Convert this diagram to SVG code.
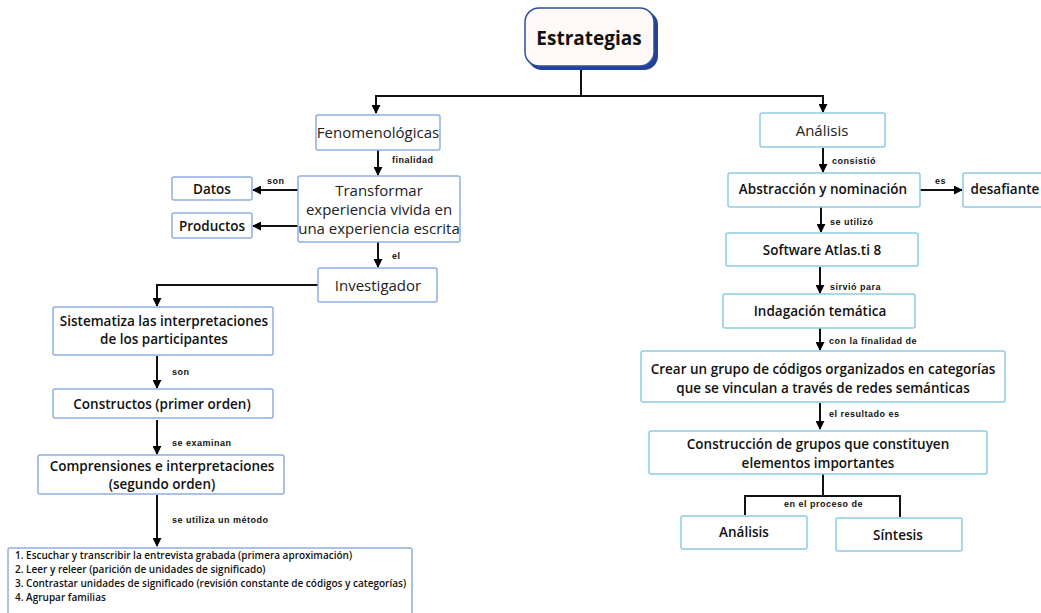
<svg xmlns="http://www.w3.org/2000/svg" width="1041" height="613" viewBox="0 0 1041 613">
<defs>
<marker id="ah" viewBox="0 0 10 10" refX="9" refY="5" markerWidth="9" markerHeight="9" markerUnits="userSpaceOnUse" orient="auto">
<path d="M0,0 L10,5 L0,10 Z" fill="#000"/>
</marker>
</defs>
<style>
.bl{fill:#fff;stroke:#8eaee0;stroke-width:1.5}
.br{fill:#fff;stroke:#8ccbe3;stroke-width:1.5}
.t{font-family:"Open Sans","Noto Sans",sans-serif;font-size:15px;fill:#222;text-anchor:middle}
.b{font-family:"Open Sans","Noto Sans",sans-serif;font-weight:600;font-size:13.5px;fill:#111;text-anchor:middle}
.s{font-family:"Liberation Sans",Arial,sans-serif;font-weight:700;font-size:9px;letter-spacing:0.5px;fill:#111}
.l{font-family:"Open Sans","Noto Sans",sans-serif;font-weight:600;font-size:10px;fill:#111}
.c{fill:none;stroke:#111;stroke-width:2}
.ca{fill:none;stroke:#111;stroke-width:2;marker-end:url(#ah)}
</style>
<rect width="1041" height="613" fill="#fff"/>
<g id="connectors">
<path class="c" d="M581,68 V96 M375,96 H824"/>
<path class="ca" d="M376,96 V113"/>
<path class="ca" d="M823,96 V112"/>
<path class="ca" d="M378,150 V175"/>
<path class="ca" d="M298,190 H253"/>
<path class="ca" d="M298,226 H253"/>
<path class="ca" d="M378,242 V267"/>
<path class="ca" d="M318,285 H157 V306"/>
<path class="ca" d="M157,356 V388"/>
<path class="ca" d="M157,420 V454"/>
<path class="ca" d="M157,495 V546"/>
<path class="ca" d="M823,148 V172"/>
<path class="ca" d="M920,190 H962"/>
<path class="ca" d="M821,207 V232"/>
<path class="ca" d="M820,267 V293"/>
<path class="ca" d="M820,328 V350"/>
<path class="ca" d="M820,403 V429"/>
<path class="c" d="M823,474 V496 M745,496 H901 M745,495 V515 M900,495 V517"/>
<text class="s" x="392" y="163">finalidad</text>
<text class="s" x="267" y="184">son</text>
<text class="s" x="392" y="259">el</text>
<text class="s" x="172" y="375">son</text>
<text class="s" x="172" y="446">se examinan</text>
<text class="s" x="172" y="523">se utiliza un método</text>
<text class="s" x="832" y="164">consistió</text>
<text class="s" x="935" y="184">es</text>
<text class="s" x="830" y="225">se utilizó</text>
<text class="s" x="830" y="290">sirvió para</text>
<text class="s" x="829" y="344">con la finalidad de</text>
<text class="s" x="829" y="417">el resultado es</text>
<text class="s" x="784" y="507">en el proceso de</text>
</g>
<g id="estrategias">
<rect x="528" y="11" width="130" height="59" rx="14" fill="#23409a"/>
<rect x="525" y="8" width="129" height="58" rx="14" fill="#fffaf8" stroke="#2f4fa3" stroke-width="1.5"/>
<text x="589" y="45" font-family="'Open Sans','Noto Sans',sans-serif" font-weight="700" font-size="19" fill="#111" text-anchor="middle">Estrategias</text>
</g>
<g id="fenomenologicas">
<rect class="bl" x="316" y="115" width="124" height="35" rx="2"/>
<text class="t" x="378" y="138">Fenomenológicas</text>
</g>
<g id="transformar">
<rect class="bl" x="298" y="176" width="162" height="66" rx="2"/>
<text class="t" x="379" y="196">Transformar</text>
<text class="t" x="379" y="215">experiencia vivida en</text>
<text class="t" x="379" y="234">una experiencia escrita</text>
</g>
<g id="datos">
<rect class="bl" x="172" y="177" width="80" height="23" rx="2"/>
<text class="b" x="212" y="194">Datos</text>
</g>
<g id="productos">
<rect class="bl" x="172" y="213" width="80" height="25" rx="2"/>
<text class="b" x="212" y="231">Productos</text>
</g>
<g id="investigador">
<rect class="bl" x="318" y="268" width="119" height="34" rx="2"/>
<text class="t" x="378" y="291">Investigador</text>
</g>
<g id="sistematiza">
<rect class="bl" x="53" y="307" width="220" height="48" rx="2"/>
<text class="b" x="164" y="326">Sistematiza las interpretaciones</text>
<text class="b" x="164" y="344">de los participantes</text>
</g>
<g id="constructos">
<rect class="bl" x="53" y="389" width="220" height="29" rx="2"/>
<text class="b" x="162" y="409">Constructos (primer orden)</text>
</g>
<g id="comprensiones">
<rect class="bl" x="38" y="455" width="246" height="39" rx="2"/>
<text class="b" x="162" y="471">Comprensiones e interpretaciones</text>
<text class="b" x="162" y="489">(segundo orden)</text>
</g>
<g id="lista">
<rect class="bl" x="8" y="548" width="404" height="70" rx="2"/>
<text class="l" x="15" y="559">1.  Escuchar y transcribir la entrevista grabada (primera aproximación)</text>
<text class="l" x="15" y="573">2. Leer y releer (parición de unidades de significado)</text>
<text class="l" x="15" y="587">3. Contrastar unidades  de significado (revisión constante de códigos y categorías)</text>
<text class="l" x="15" y="601">4. Agrupar familias</text>
</g>
<g id="analisis">
<rect class="br" x="760" y="113" width="125" height="34" rx="2"/>
<text class="t" x="822" y="136">Análisis</text>
</g>
<g id="abstraccion">
<rect class="br" x="728" y="173" width="192" height="34" rx="2"/>
<text class="b" x="823" y="194">Abstracción y nominación</text>
</g>
<g id="desafiante">
<rect class="br" x="963" y="173" width="85" height="34" rx="2"/>
<text class="b" x="1005" y="194">desafiante</text>
</g>
<g id="software">
<rect class="br" x="726" y="233" width="192" height="33" rx="2"/>
<text class="b" x="822" y="255">Software Atlas.ti 8</text>
</g>
<g id="indagacion">
<rect class="br" x="723" y="294" width="192" height="34" rx="2"/>
<text class="b" x="820" y="316">Indagación temática</text>
</g>
<g id="crear">
<rect class="br" x="641" y="351" width="364" height="51" rx="2"/>
<text class="b" x="823" y="374">Crear un grupo de códigos organizados en categorías</text>
<text class="b" x="823" y="393">que se vinculan a través de redes semánticas</text>
</g>
<g id="construccion">
<rect class="br" x="649" y="431" width="338" height="43" rx="2"/>
<text class="b" x="818" y="449">Construcción de grupos que constituyen</text>
<text class="b" x="818" y="468">elementos importantes</text>
</g>
<g id="analisis2">
<rect class="br" x="681" y="516" width="126" height="33" rx="2"/>
<text class="b" x="744" y="537">Análisis</text>
</g>
<g id="sintesis">
<rect class="br" x="836" y="518" width="126" height="33" rx="2"/>
<text class="b" x="898" y="540">Síntesis</text>
</g>
</svg>
